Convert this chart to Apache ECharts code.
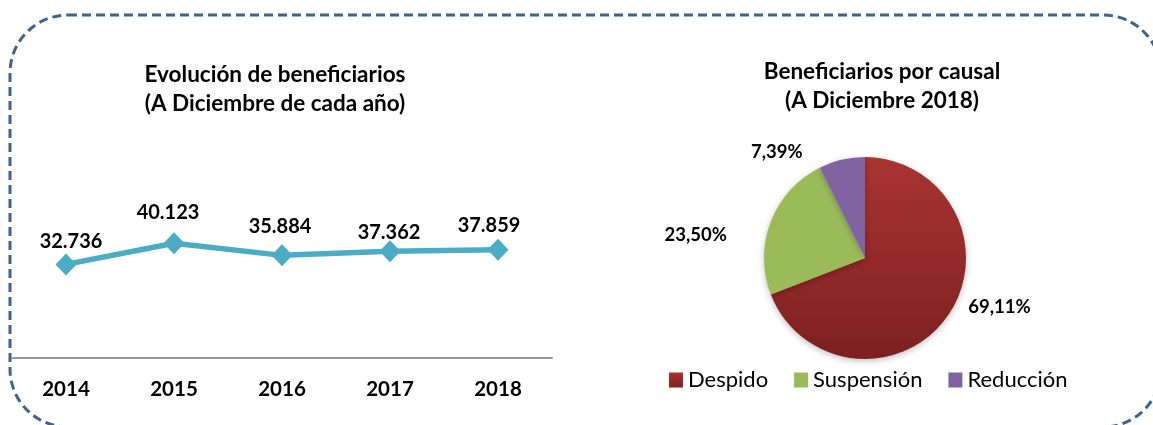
<!DOCTYPE html>
<html>
<head>
<meta charset="utf-8">
<title>Beneficiarios</title>
<script src="https://cdn.jsdelivr.net/npm/echarts@6/dist/echarts.min.js"></script>
<style>
  html, body { margin: 0; padding: 0; background: #fff; }
  #chart { width: 1153px; height: 425px; }
</style>
</head>
<body>
<div id="chart"></div>
<script>
// datos
var years = ['2014', '2015', '2016', '2017', '2018']
var beneficiarios = [32736, 40123, 35884, 37362, 37859]
var causales = ['Despido', 'Suspensión', 'Reducción']
var porcentajes = [69.11, 23.50, 7.39]
var coloresCausal = ['#9c2e2c', '#9bbb59', '#8064a2']

var fuente = 'Lato, "Open Sans", sans-serif'
// desplazamientos de etiquetas (colocadas a mano en el original)
var offsetsLinea = [[5, 0], [-6, -8], [-2, -6], [-1, 4], [-9, -1]]
var offsetsPastel = [[-12, -18], [-10, 20], [-18, 10]]

function numES (v) {
  return String(v).replace(/\B(?=(\d{3})+(?!\d))/g, '.')
}

var myChart = echarts.init(document.getElementById('chart'))

var lineData = beneficiarios.map(function (v, i) {
  return { value: v, label: { offset: offsetsLinea[i] } }
})

var pieData = causales.map(function (c, i) {
  var item = {
    name: c,
    value: porcentajes[i],
    itemStyle: { color: coloresCausal[i] },
    label: { offset: offsetsPastel[i] }
  }
  if (i === 0) {
    item.itemStyle.color = new echarts.graphic.LinearGradient(0, 0, 0, 1, [
      { offset: 0, color: '#a93432' },
      { offset: 1, color: '#7d2020' }
    ])
  }
  return item
})

myChart.setOption({
  animation: false,
  textStyle: { fontFamily: fuente },
  graphic: [{
    type: 'rect',
    shape: { x: 10, y: 15, width: 1151, height: 412, r: 58 },
    style: { fill: 'none', stroke: '#3d6394', lineWidth: 3, lineDash: [9, 5] },
    silent: true
  }],
  title: [{
    text: 'Evolución de beneficiarios\n(A Diciembre de cada año)',
    left: 270,
    top: 55,
    textAlign: 'center',
    textStyle: { fontFamily: fuente, fontSize: 22.5, fontWeight: 'bold', color: '#000', lineHeight: 29 }
  }, {
    text: 'Beneficiarios por causal\n(A Diciembre 2018)',
    left: 877,
    top: 52,
    textAlign: 'center',
    textStyle: { fontFamily: fuente, fontSize: 22.5, fontWeight: 'bold', color: '#000', lineHeight: 29 }
  }],
  legend: {
    data: causales,
    left: 669,
    top: 369,
    padding: 0,
    orient: 'horizontal',
    icon: 'rect',
    itemWidth: 14,
    itemHeight: 15,
    itemGap: 26,
    textStyle: { fontFamily: fuente, fontSize: 22, color: '#000' }
  },
  grid: { left: 12, right: 601, top: 215, bottom: 67 },
  xAxis: {
    type: 'category',
    data: years,
    boundaryGap: true,
    axisLine: { lineStyle: { color: '#999', width: 2 } },
    axisTick: { show: false },
    axisLabel: { margin: 21, fontSize: 20.5, fontWeight: 'bold', color: '#000', fontFamily: fuente }
  },
  yAxis: {
    type: 'value',
    min: 0,
    max: 50000,
    show: false,
    splitLine: { show: false }
  },
  series: [{
    type: 'line',
    data: lineData,
    symbol: 'diamond',
    symbolSize: [21, 22],
    lineStyle: { color: '#4bacc6', width: 5.5 },
    itemStyle: { color: '#4bacc6' },
    label: {
      show: true,
      position: 'top',
      distance: 2,
      fontSize: 20,
      fontWeight: 'bold',
      color: '#000',
      fontFamily: fuente,
      formatter: function (p) { return numES(p.value) }
    }
  }, {
    type: 'pie',
    center: [865, 258],
    radius: 101,
    startAngle: 90,
    clockwise: true,
    data: pieData,
    itemStyle: { shadowBlur: 6, shadowColor: 'rgba(0,0,0,0.25)', shadowOffsetY: 2 },
    label: {
      show: true,
      position: 'outside',
      fontSize: 18.5,
      fontWeight: 'bold',
      color: '#000',
      fontFamily: fuente,
      formatter: function (p) { return p.value.toFixed(2).replace('.', ',') + '%' }
    },
    labelLine: { show: false, length: 18, length2: 12 },
    emphasis: { disabled: true }
  }]
})
</script>
</body>
</html>
